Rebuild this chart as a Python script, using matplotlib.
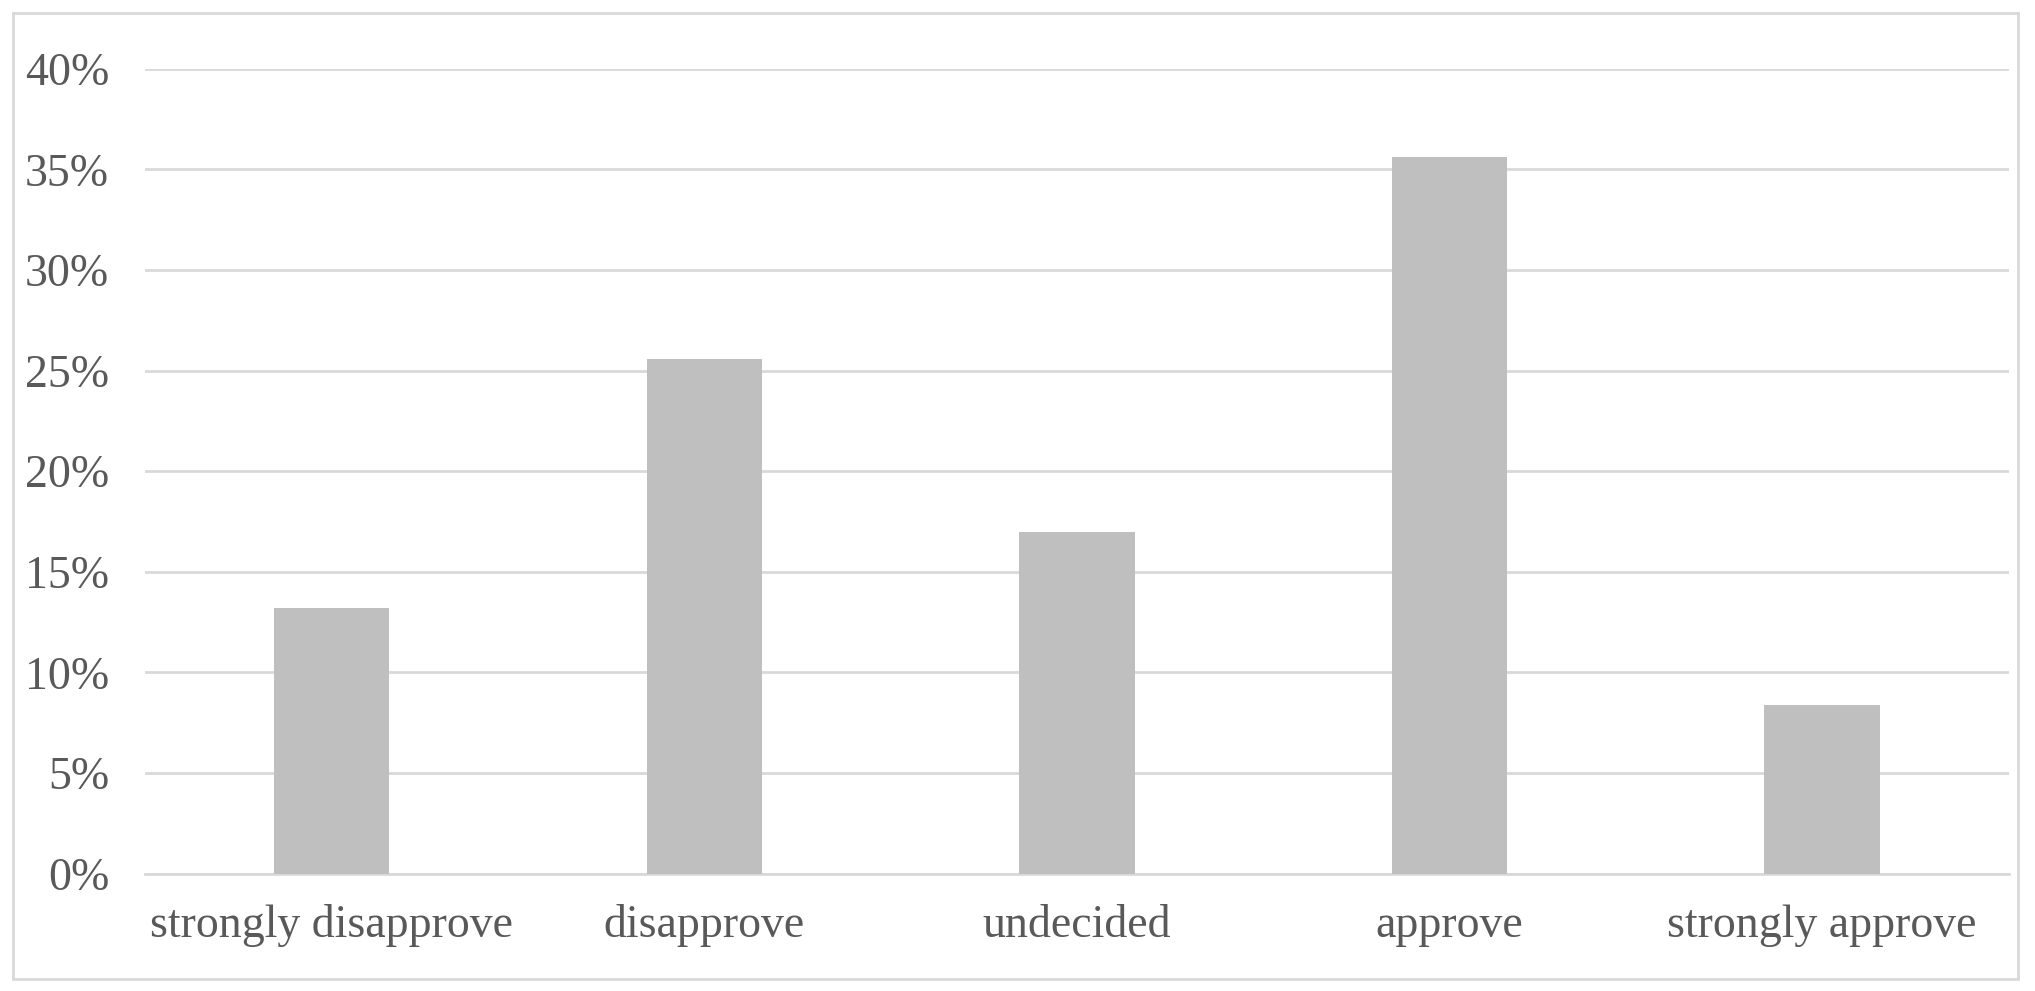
import matplotlib
matplotlib.use("Agg")
import matplotlib.pyplot as plt
from matplotlib.patches import Rectangle
from matplotlib.ticker import FuncFormatter

categories = ["strongly disapprove", "disapprove", "undecided", "approve", "strongly approve"]
values = [13.2, 25.6, 17.0, 35.6, 8.4]
yticks = [0, 5, 10, 15, 20, 25, 30, 35, 40]

plt.rcParams['font.family'] = ['Liberation Serif', 'DejaVu Serif']
fig = plt.figure(figsize=(20.35, 9.91), dpi=100)
fig.patches.append(Rectangle((0.0064, 0.012), 0.9853, 0.975, transform=fig.transFigure,
                             fill=False, edgecolor='#d9d9d9', linewidth=2))
ax = fig.add_axes([0.0714, 0.1185, 0.9156, 0.8121])
ax.bar(range(len(categories)), values, width=0.31, color='#bfbfbf', zorder=3)
ax.set_xlim(-0.5, 4.5)
ax.set_ylim(0, 40)
ax.set_yticks(yticks)
ax.yaxis.set_major_formatter(FuncFormatter(lambda v, p: f"{int(v)}%"))
ax.set_xticks(range(len(categories)))
ax.set_xticklabels(categories)
ax.grid(axis='y', color='#d9d9d9', linewidth=2, zorder=0)
for s in ['top', 'right', 'left']:
    ax.spines[s].set_visible(False)
ax.spines['bottom'].set_color('#d9d9d9')
ax.spines['bottom'].set_linewidth(2)
ax.tick_params(axis='both', length=0, labelsize=33, colors='#595959')
ax.tick_params(axis='y', pad=26)
ax.tick_params(axis='x', pad=22)
fig.savefig("out.png", dpi=100)
